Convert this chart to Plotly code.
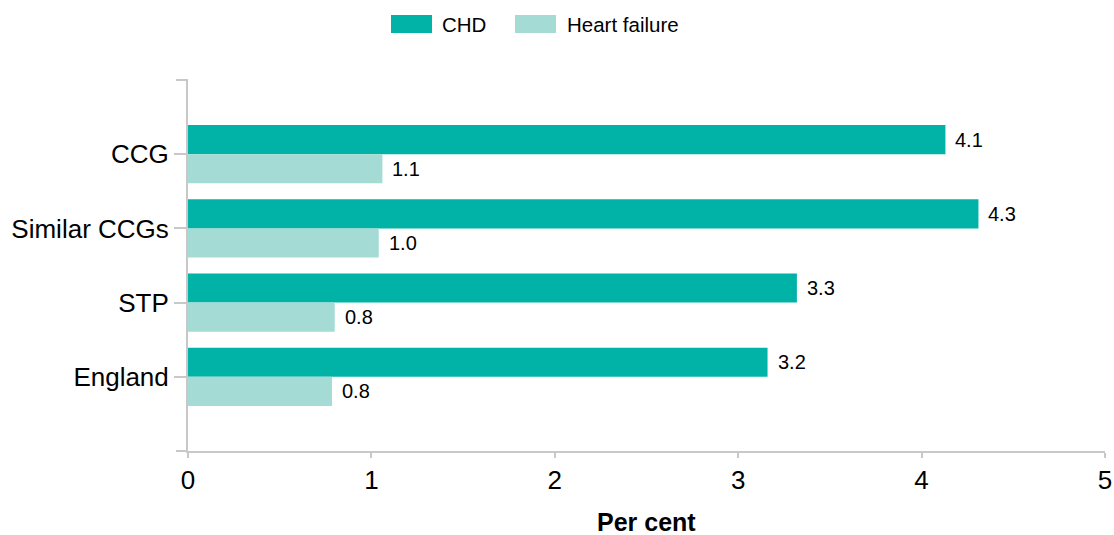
import plotly.graph_objects as go

categories = ["CCG", "Similar CCGs", "STP", "England"]
chd_values = [4.13, 4.31, 3.32, 3.16]
hf_values = [1.06, 1.04, 0.80, 0.785]
series_names = ["CHD", "Heart failure"]
x_ticks = [0, 1, 2, 3, 4, 5]

CHD_COLOR = "#00b3a6"
HF_COLOR = "#a4dbd5"
AXIS_COLOR = "#c8c8c8"
FONT = "Liberation Sans, Arial, sans-serif"

L, R, T, B = 188, 9, 80, 84
W, H = 1114, 535
PW, PH = W - L - R, H - T - B

def px_x(px):
    return (px - L) / PW

def px_y(py):
    return (H - B - py) / PH

fig = go.Figure()
fig.add_trace(go.Bar(y=categories, x=chd_values, orientation="h", name=series_names[0],
                     marker=dict(color=CHD_COLOR, line=dict(width=0)), showlegend=False))
fig.add_trace(go.Bar(y=categories, x=hf_values, orientation="h", name=series_names[1],
                     marker=dict(color=HF_COLOR, line=dict(width=0)), showlegend=False))

annotations = []
for cat, v in zip(categories, chd_values):
    annotations.append(dict(x=v, y=cat, xref="x", yref="y", text=f"{v:.1f}", showarrow=False,
                            xanchor="left", yanchor="middle", xshift=8, yshift=14.5,
                            font=dict(size=20, color="#000", family=FONT)))
for cat, v in zip(categories, hf_values):
    annotations.append(dict(x=v, y=cat, xref="x", yref="y", text=f"{v:.1f}", showarrow=False,
                            xanchor="left", yanchor="middle", xshift=8, yshift=-14.5,
                            font=dict(size=20, color="#000", family=FONT)))

# custom legend
shapes = []
legend_items = [(series_names[0], CHD_COLOR, 391, 432, 440), (series_names[1], HF_COLOR, 515, 556, 565)]
for name, col, bx0, bx1, tx in legend_items:
    shapes.append(dict(type="rect", xref="paper", yref="paper", x0=px_x(bx0), x1=px_x(bx1),
                       y0=px_y(33), y1=px_y(15), fillcolor=col, line=dict(width=0)))
    annotations.append(dict(x=px_x(tx), y=px_y(24), xref="paper", yref="paper", text=name,
                            showarrow=False, xanchor="left", yanchor="middle",
                            font=dict(size=20.5, color="#000", family=FONT)))

# outer ticks of y axis (top and bottom ends)
for yy in (0, 1):
    shapes.append(dict(type="line", xref="paper", yref="paper", x0=px_x(176), x1=0, y0=yy, y1=yy,
                       line=dict(color=AXIS_COLOR, width=2)))

# x axis title
annotations.append(dict(x=0.5, y=px_y(522), xref="paper", yref="paper", text="<b>Per cent</b>",
                        showarrow=False, xanchor="center", yanchor="middle",
                        font=dict(size=25, color="#000", family=FONT)))

fig.update_layout(
    width=W, height=H,
    margin=dict(l=L, r=R, t=T, b=B, autoexpand=False),
    paper_bgcolor="white", plot_bgcolor="white",
    barmode="group", bargap=0.216, bargroupgap=0,
    font=dict(family=FONT, color="#000"),
    annotations=annotations, shapes=shapes,
    xaxis=dict(range=[0, 5], tickvals=x_ticks, showgrid=False, zeroline=False, automargin=False,
               showline=True, linecolor=AXIS_COLOR, linewidth=2,
               ticks="outside", ticklen=5, tickwidth=2, tickcolor=AXIS_COLOR,
               tickfont=dict(size=26, family=FONT, color="#000")),
    yaxis=dict(type="category", categoryorder="array", categoryarray=categories,
               range=[4, -1], showgrid=False, zeroline=False, automargin=False,
               showline=True, linecolor=AXIS_COLOR, linewidth=2,
               ticks="outside", ticklen=12, tickwidth=2, tickcolor=AXIS_COLOR,
               tickfont=dict(size=26, family=FONT, color="#000")),
)

fig.write_html("out.html", config={"displayModeBar": False},
               post_script="document.body.style.margin='0';document.body.style.padding='0';")
